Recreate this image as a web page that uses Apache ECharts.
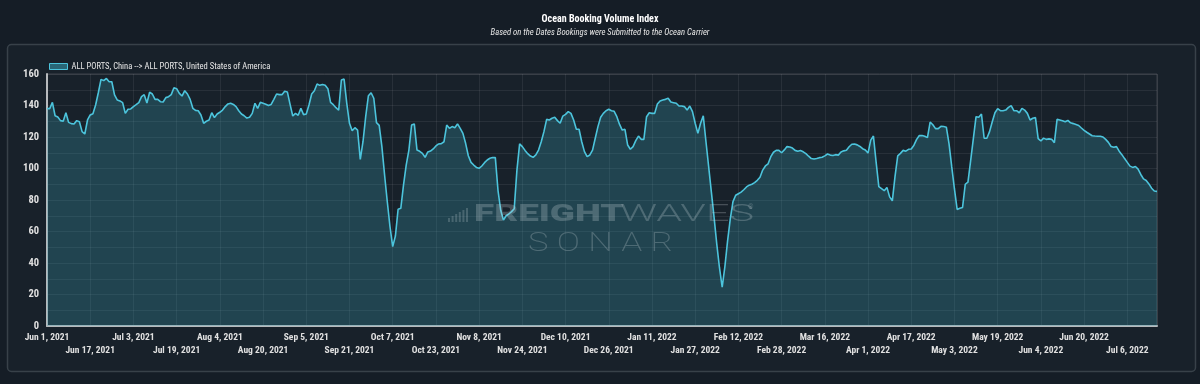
<!DOCTYPE html>
<html><head><meta charset="utf-8">
<script src="https://cdn.jsdelivr.net/npm/echarts@6/dist/echarts.min.js"></script>
<style>html,body{margin:0;padding:0;background:#151d26;}#c{width:1200px;height:384px;}</style>
</head><body><div id="c"></div>
<script>
// ---------------- DATA ----------------
const startDate = [2021, 5, 1]; // Jun 1, 2021 (daily series)
const seriesName = 'ALL PORTS, China --> ALL PORTS, United States of America';
const junAug2021 = [
138,138,142,133.5,132.7,130.4,130,135.4,129.3,128.5,
128.3,130.4,129.7,123.4,121.9,130.8,134,134.8,140.3,148.1,
156.6,155.8,157.2,155.1,155.1,146.7,143.5,142.9,141.8,135,
137.6,137.8,139.3,140.5,141.8,145.6,146.9,141.6,148.4,147.3,
143.9,143.9,142.4,142.2,145,145.6,146.9,151.3,150.7,147.7,
146,149.4,147.3,143.9,138.2,136.9,136.7,134,128.7,130,
130.8,135.4,132.3,134.6,135.7,137.1,139.3,141,141.4,140.7,
139.3,136.7,134.6,133.5,132,132.5,135,141.4,138.2,142,
141.4,140.8,140,140.7,143.9,147.3,146.9,146.9,149,148.6,
140.7,133.3];
const sepNov2021 = [
135,133.8,138.2,134.2,134.6,140.3,147.3,149.4,
153.7,152.8,153.4,152.8,150.7,142,140.5,138.6,137,156.2,
156.8,141.4,128.7,124,125.9,124.4,105.8,117,132.9,146.2,
148.1,144.6,129.1,127.4,113.9,95.9,78.9,63.1,50.4,57.1,
74.1,74.7,89.5,102.2,111.7,127.6,128.3,111.7,110.9,109.6,
107.1,110.5,111.1,112.4,114.3,115.6,115.8,117,127.6,125.5,
126.6,125.9,128.3,125.5,122.3,116,108.1,103.9,102.2,100.7,
100.1,101.6,103.7,105.4,106.5,107,106.9,86,73.5,67.3,
70,71.1,72.6,74.5,99,115.6,113.9,111.5,109.4,107.9,
107.1,108.6,111.7];
const decFeb2022 = [
117,123.4,131.2,130.8,131.9,132.5,130.4,128.7,133.3,
134.4,136.1,135,130.8,124.9,124.9,117,110.7,107.5,
108.6,111.7,119.2,126.6,132.5,135,136.7,137.6,136.7,136.3,
132.9,128,124.4,124.9,114.9,112.2,113.9,117.7,120.6,118.5,
118.5,132.9,135.4,135,135,141,142.9,143.5,143.9,144.6,
142.2,141.8,141.4,139.7,139.7,139.3,137.1,139.7,136.1,128.7,
122.3,128.7,133.5,117,101,85,69,52,37,24.6,
37.7,54,68,79,83,84,85,86.5,88.3,89.4,
90,91,92.5,94.5,99,101.6,103,107.5,110.3,111.5,
111.5,110];
const marMay2022 = [
111.8,113.9,113.7,113,111.5,111,111.4,110.6,
109.4,107.8,106.3,106,106.3,106.9,107.1,108,109.2,108.5,
108.2,108.8,108.5,110.5,111.2,111.6,113.8,115.4,115.6,115,
114,112.6,111.8,109.8,118,120.6,104,88.5,87.2,85.9,
88,82,79.5,95,108,109.6,111.5,111,112.2,112.4,
114.8,118.5,121,120.9,120.5,119.6,129.5,127.8,125.3,125.3,
126.8,126.7,126.2,115.6,101,87,74,74.7,75.3,90,
91.4,105,119,132.9,132.5,134.6,119.2,119.2,123.4,129.7,
135.4,138,136.7,136.7,137.1,138.8,139.9,136.7,136.7,135.4,
138.2,137.1,135,130.8];
const junJul2022 = [
131.9,132.3,119,117.5,119.3,118.5,118.8,118.5,116.4,131.2,
130.8,130.3,129.7,130.5,129,128.5,127.9,127.3,125.7,124.2,
123,121.9,120.8,120.6,120.5,120.5,120,118.5,116.6,114,
113.5,113.9,111,108.8,106.3,103.9,101.5,100.7,101.3,99.6,
96.2,93.4,92.4,90.2,87.5,85.7,85.5];
const yMin = 0, yMax = 160, yLabelStep = 20, yGridStep = 10;
const xLabelEvery = 16; // days between x labels
const monthNames = ['Jan','Feb','Mar','Apr','May','Jun','Jul','Aug','Sep','Oct','Nov','Dec'];

// ---------------- BUILD ----------------
const values = [].concat(junAug2021, sepNov2021, decFeb2022, marMay2022, junJul2022);
const categories = values.map((_, i) => {
  const d = new Date(Date.UTC(startDate[0], startDate[1], startDate[2] + i));
  return monthNames[d.getUTCMonth()] + ' ' + d.getUTCDate() + ', ' + d.getUTCFullYear();
});

// font detection (condensed family if present)
const ctx = document.createElement('canvas').getContext('2d');
function hasFont(name){
  const s = 'mmmmmmmmmmlliWW 0123456789 Jun 17, 2021';
  for (const base of ['monospace','serif']) {
    ctx.font = '20px ' + base; const w0 = ctx.measureText(s).width;
    ctx.font = '20px "' + name + '", ' + base; const w1 = ctx.measureText(s).width;
    if (Math.abs(w0 - w1) > 0.5) return true;
  }
  return false;
}
const cands = ['Roboto Condensed','Liberation Sans Narrow','DejaVu Sans Condensed','Arial Narrow','Open Sans Condensed'];
let FAM = 'Roboto';
for (const c of cands) { if (hasFont(c)) { FAM = c; break; } }
function fit(text, weight, style, target, lo, hi){
  ctx.font = style + ' ' + weight + ' 100px "' + FAM + '"';
  const w = ctx.measureText(text).width;
  return Math.max(lo, Math.min(hi, 100 * target / w));
}
const titleSize = fit('Ocean Booking Volume Index', 'bold', 'normal', 115, 10, 12);
const subSize = fit('Based on the Dates Bookings were Submitted to the Ocean Carrier', 'normal', 'italic', 219, 8.5, 10);
const legSize = fit(seriesName, 'normal', 'normal', 199, 8.5, 10);
const xSize = fit('Jun 17, 2021', 'bold', 'normal', 49, 9.5, 11.5);
const ySize = 10.5;

const chart = echarts.init(document.getElementById('c'), null, {renderer: 'canvas'});
const WM = 'rgba(210,220,225,0.25)';
const bars = [];
[4,6,8,10,12,14].forEach((h, i) => bars.push({type:'rect', shape:{x:448 + i*3.6, y:222 - h, width:2, height:h}, style:{fill:'rgba(210,220,225,0.22)'}, z:20, silent:true}));

const labelBase = {color: '#e0e0e0', fontSize: xSize, fontWeight: 'bold', fontFamily: FAM,
  showMinLabel: true, showMaxLabel: true, hideOverlap: false, margin: 7};

chart.setOption({
  backgroundColor: '#151d26',
  animation: false,
  textStyle: {fontFamily: FAM},
  title: {
    text: 'Ocean Booking Volume Index',
    subtext: 'Based on the Dates Bookings were Submitted to the Ocean Carrier',
    left: 'center', top: 9, itemGap: 4,
    textStyle: {color: '#ffffff', fontSize: titleSize, fontWeight: 'bold', fontFamily: FAM},
    subtextStyle: {color: '#e6e6e6', fontSize: subSize, fontStyle: 'italic', fontFamily: FAM}
  },
  legend: {
    left: 44, top: 57, icon: 'rect', itemWidth: 18, itemHeight: 6, itemGap: 4,
    data: [{name: seriesName, itemStyle: {color: 'rgba(56,160,180,0.55)', borderColor: '#4cc4dc', borderWidth: 1}}],
    textStyle: {color: '#e6e6e6', fontSize: legSize, fontFamily: FAM, padding: [0,0,0,-1]}
  },
  grid: {left: 47, right: 43, top: 74, bottom: 58, show: true, borderColor: '#3c434b', borderWidth: 1, backgroundColor: 'transparent'},
  xAxis: [{
    type: 'category', data: categories, boundaryGap: false, position: 'bottom',
    axisLine: {show: true, lineStyle: {color: '#b7babd', width: 2}},
    axisTick: {show: false},
    axisLabel: Object.assign({}, labelBase, {interval: (idx) => idx % (2 * xLabelEvery) === 0}),
    splitLine: {show: true, interval: xLabelEvery - 1, lineStyle: {color: 'rgba(255,255,255,0.07)', width: 1}}
  }, {
    type: 'category', data: categories, boundaryGap: false, position: 'bottom', offset: 13,
    axisLine: {show: false}, axisTick: {show: false}, splitLine: {show: false},
    axisLabel: Object.assign({}, labelBase, {interval: (idx) => idx % (2 * xLabelEvery) === xLabelEvery})
  }],
  yAxis: {
    type: 'value', min: yMin, max: yMax, interval: yGridStep,
    axisLine: {show: true, lineStyle: {color: '#b7babd', width: 2}},
    axisTick: {show: false},
    axisLabel: {color: '#e0e0e0', fontSize: ySize, fontWeight: 'bold', fontFamily: FAM, margin: 8,
      showMinLabel: true, showMaxLabel: true,
      formatter: v => (v % yLabelStep === 0 ? String(v) : '')},
    splitLine: {show: true, lineStyle: {color: 'rgba(255,255,255,0.07)', width: 1}}
  },
  series: [{
    name: seriesName, type: 'line', data: values, symbol: 'none', smooth: false,
    xAxisIndex: 0,
    lineStyle: {color: '#4cc4dc', width: 1.6},
    itemStyle: {color: '#4cc4dc'},
    areaStyle: {color: 'rgba(56,160,180,0.40)'},
    z: 3
  }],
  graphic: [
    {type: 'rect', shape: {x: 7.5, y: 44.5, width: 1188, height: 327, r: 4}, style: {fill: '#18212a', stroke: '#384149', lineWidth: 1.5}, z: -10, silent: true},
    ...bars,
    {type: 'text', x: 474, y: 215, style: {text: 'FREIGHT', fill: WM, font: '900 23px Roboto', verticalAlign: 'middle'}, scaleX: 1.6, z: 20, silent: true},
    {type: 'text', x: 620, y: 215, style: {text: 'WAVES', fill: WM, font: '300 23px Roboto', verticalAlign: 'middle'}, scaleX: 1.8, z: 20, silent: true},
    {type: 'text', x: 748, y: 207, style: {text: '®', fill: WM, font: '400 7px Roboto', verticalAlign: 'middle'}, z: 20, silent: true},
    {type: 'text', x: 528, y: 244, style: {text: 'S O N A R', fill: WM, font: '200 26px Roboto', verticalAlign: 'middle'}, scaleX: 1.33, z: 20, silent: true}
  ]
});
</script></body></html>
